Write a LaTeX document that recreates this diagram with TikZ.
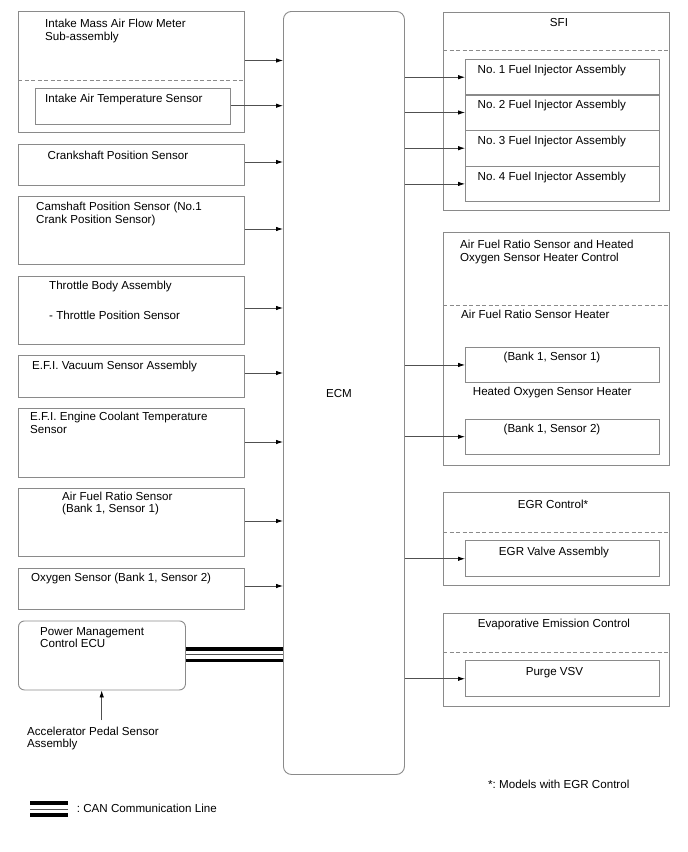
\documentclass[tikz,border=0pt]{standalone}
\usepackage{fontspec}
\setmainfont{Liberation Sans}
\usetikzlibrary{arrows.meta}
\definecolor{boxgray}{HTML}{8A8A8A}
\definecolor{linegray}{HTML}{505050}
\tikzset{
    blk/.style 2 args={
        draw=boxgray, line width=0.9pt, anchor=north west, inner sep=0pt,
        minimum width=#1pt, minimum height=#2pt
    },
    conn/.style={draw=linegray, line width=0.8pt, -{Latex[length=7pt, width=4.5pt, color=black]}},
    sep/.style={draw=boxgray, line width=0.8pt, dash pattern=on 4pt off 2.5pt}
}

\begin{document}
\begin{tikzpicture}[
        x=1pt, y=-1pt,
        font=\fontsize{11.6}{12.8}\selectfont\frenchspacing,
        lbl/.style={anchor=base west, inner sep=0pt, align=left},
        ctr/.style={anchor=base, inner sep=0pt},
        can/.style={line width=3.3pt, line cap=butt}]
    \useasboundingbox (0,0) rectangle (688,852);
    \node[blk={226}{121}] (mafm) at (18,11) {};
    \node[blk={195}{36}] (iat) at (35,88) {};
    \node[blk={226}{41}] (ckp) at (18,144) {};
    \node[blk={226}{68}] (cmp) at (18,196) {};
    \node[blk={226}{68}] (tb) at (18,276) {};
    \node[blk={226}{42}] (vac) at (18,355) {};
    \node[blk={226}{69}] (ect) at (18,408) {};
    \node[blk={226}{68}] (afs) at (18,488) {};
    \node[blk={226}{41}] (oxs) at (18,568) {};
    \node[blk={167}{69}, rounded corners=6pt] (pmecu) at (18,620.5) {};
    \node[blk={121}{763}, rounded corners=8pt] (ecm) at (283,11) {};
    \node[blk={226}{198}] (sfi) at (443,11.5) {};
    \foreach \i/\y in {1/59,2/94.3,3/130,4/165.7}{
        \node[blk={194}{35.5}] (inj\i) at (465,\y) {};
        \node[lbl] (tinj\i) at (477.5,\y+14.3) {No. \i\ Fuel Injector Assembly};
    }
    \node[blk={226}{233}] (afc) at (443,232) {};
    \node[blk={194}{35}] (afh) at (465,347) {};
    \node[blk={194}{34.5}] (hoh) at (465,419) {};
    \node[blk={226}{93}] (egr) at (443,492.3) {};
    \node[blk={194}{36}] (egrv) at (465,540.3) {};
    \node[blk={226}{93.5}] (evap) at (443,612.7) {};
    \node[blk={194}{36}] (vsv) at (465,660.3) {};

    \foreach \n/\y in {mafm/80,sfi/50.7,afc/305,egr/532.3,evap/652.3}
        \draw[sep] (\n.west |- 0,\y) -- (\n.east |- 0,\y);

    \node[lbl] (tmafm) at (45,40.3) {Intake Mass Air Flow Meter\\Sub-assembly};
    \node[lbl] (tiat) at (45,102.5) {Intake Air Temperature Sensor};
    \node[lbl] (tckp) at (47.5,159) {Crankshaft Position Sensor};
    \node[lbl] (tcmp) at (36,223.5) {Camshaft Position Sensor (No.1\\Crank Position Sensor)};
    \node[lbl] (ttb) at (49,289) {Throttle Body Assembly};
    \node[lbl] (ttps) at (49,319) {- Throttle Position Sensor};
    \node[lbl] (tvac) at (32,369) {E.F.I. Vacuum Sensor Assembly};
    \node[lbl] (tect) at (30,433.5) {E.F.I. Engine Coolant Temperature\\Sensor};
    \node[lbl] (tafs) at (62,512.8) {Air Fuel Ratio Sensor\\(Bank 1, Sensor 1)};
    \node[lbl] (toxs) at (31,581) {Oxygen Sensor (Bank 1, Sensor 2)};
    \node[lbl] (tpm) at (40,647.8) {Power Management\\Control ECU};
    \node[lbl] (apps) at (27,747.8) {Accelerator Pedal Sensor\\Assembly};
    \node[ctr] (tecm) at (339,397) {ECM};
    \node[ctr] (tsfi) at (559,26.7) {SFI};
    \node[lbl] (tafc) at (460,261.1) {Air Fuel Ratio Sensor and Heated\\Oxygen Sensor Heater Control};
    \node[lbl] (tafh) at (461,318) {Air Fuel Ratio Sensor Heater};
    \node[ctr] (tafh1) at (552,360) {(Bank 1, Sensor 1)};
    \node[lbl] (thoh) at (472.7,395) {Heated Oxygen Sensor Heater};
    \node[ctr] (thoh2) at (552,432.3) {(Bank 1, Sensor 2)};
    \node[ctr] (tegr) at (553,508.7) {EGR Control*};
    \node[ctr] (tegrv) at (554,555) {EGR Valve Assembly};
    \node[ctr] (tevap) at (554,627.7) {Evaporative Emission Control};
    \node[ctr] (tvsv) at (554.5,675) {Purge VSV};
    \node[lbl] (note) at (488,788) {*: Models with EGR Control};
    \node[lbl] (tleg) at (76.7,812) {: CAN Communication Line};

    \foreach \n/\y in {mafm/60.5,iat/105.7,ckp/162,cmp/229,tb/308,vac/373,ect/442,afs/521,oxs/586}
        \draw[conn] (\n.east |- 0,\y) -- (ecm.west |- 0,\y);
    \foreach \n in {inj1,inj2,inj3,inj4,afh,hoh,egrv,vsv}
        \draw[conn] (ecm.east |- \n) -- (\n.west);
    \coordinate (appsin) at (101.7,720);
    \draw[conn] (appsin) -- (appsin |- pmecu.south);

    \draw[can] (pmecu.east |- 0,649) -- (ecm.west |- 0,649);
    \draw[line width=0.9pt, linegray] (pmecu.east |- 0,654.6) -- (ecm.west |- 0,654.6);
    \draw[can] (pmecu.east |- 0,660.6) -- (ecm.west |- 0,660.6);
    \coordinate (leg) at (30,803);
    \draw[can] (leg) -- ++(38.3,0);
    \draw[line width=0.9pt, linegray] ([yshift=-6pt]leg) -- ++(38.3,0);
    \draw[can] ([yshift=-12pt]leg) -- ++(38.3,0);
\end{tikzpicture}
\end{document}
